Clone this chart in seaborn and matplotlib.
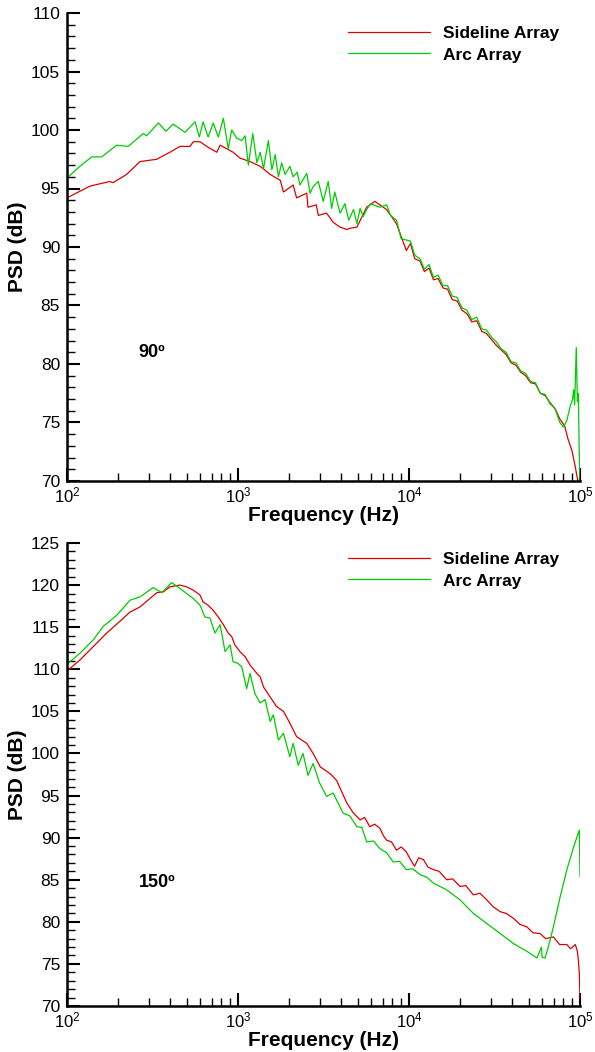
import matplotlib
matplotlib.use("Agg")
import matplotlib.pyplot as plt
from matplotlib.ticker import MultipleLocator, LogLocator, NullFormatter
import seaborn as sns
import pandas as pd

# ---------------- data ----------------
series_names = ["Sideline Array", "Arc Array"]

f_side_90 = [100, 136, 178, 186, 223, 267, 335, 400, 458, 524, 548, 600, 656, 751, 786, 860, 936, 1026, 1176, 1348,
             1543, 1767, 1845, 2102, 2201, 2524, 2566, 2868, 2950, 3295, 3608, 3950, 4335, 4524, 4958, 5656, 6315, 7395, 8447, 9645,
             10200, 10800, 11600, 12300, 13100, 13900, 14800, 15800, 16800, 17900, 19100, 20400, 21800, 23300, 24900, 26600, 28400, 30300, 32400, 34600,
             37000, 39500, 42200, 45000, 48100, 51400, 54900, 58600, 62600, 66800, 71400, 76200, 81400, 85000, 89700, 93900, 96000, 98000]
psd_side_90 = [94.2, 95.2, 95.6, 95.5, 96.2, 97.3, 97.5, 98.1, 98.6, 98.6, 99.0, 99.0, 98.6, 98.1, 98.7, 98.4, 98.1, 97.6, 97.3, 96.9,
               96.2, 95.7, 94.7, 95.3, 94.2, 94.6, 93.4, 93.6, 92.7, 92.9, 92.1, 91.7, 91.5, 91.6, 91.7, 93.4, 93.9, 93.2, 92.0, 89.7,
               90.3, 89.0, 88.8, 87.9, 88.2, 87.2, 87.3, 86.5, 86.4, 85.5, 85.4, 84.6, 84.3, 83.6, 83.7, 82.8, 82.6, 82.1, 81.6, 81.2,
               80.8, 80.1, 79.9, 79.3, 79.0, 78.4, 78.3, 77.5, 77.3, 76.7, 76.2, 75.3, 74.7, 73.6, 72.6, 71.2, 70.4, 69.8]

f_arc_90 = [100, 119, 139.5, 159.6, 195, 228, 279, 292, 342, 379, 418, 490, 561, 594, 625, 669, 716, 767, 821, 877,
            918, 983, 1052, 1100, 1150, 1220, 1290, 1348, 1410, 1506, 1577, 1650, 1724, 1800, 1885, 2010, 2100, 2220, 2300, 2524,
            2640, 2760, 2950, 3150, 3370, 3530, 3680, 3950, 4220, 4440, 4740, 4958, 5180, 5400, 5656, 5950, 6760, 7395, 7800, 8447,
            9000, 9645, 10200, 10800, 11600, 12300, 13100, 13900, 14800, 15800, 16800, 17900, 19100, 20400, 21800, 23300, 24900, 26600, 28400, 30300,
            32400, 34600, 37000, 39500, 42200, 45000, 48100, 51400, 54900, 58600, 62600, 66800, 71400, 76200, 80200, 83800, 87700, 90500, 91800, 93000,
            95100, 96500, 97800, 99000, 100000]
psd_arc_90 = [95.9, 96.9, 97.7, 97.7, 98.7, 98.6, 99.7, 99.5, 100.6, 99.9, 100.5, 99.8, 100.7, 99.4, 100.7, 99.4, 100.6, 99.4, 101.0, 98.4,
              100.0, 99.3, 99.1, 99.5, 97.0, 99.7, 97.2, 98.1, 96.7, 99.1, 96.6, 97.9, 96.0, 97.2, 96.2, 96.9, 96.0, 96.4, 95.3, 96.3,
              94.6, 95.2, 95.6, 93.9, 95.6, 93.3, 94.7, 92.9, 93.7, 92.3, 93.2, 92.0, 93.3, 92.6, 93.2, 93.7, 93.4, 93.6, 92.7, 92.3,
              90.7, 90.6, 90.5, 89.3, 89.0, 88.1, 88.5, 87.4, 87.6, 86.7, 86.7, 85.8, 85.7, 84.8, 84.6, 83.8, 84.0, 83.0, 82.9, 82.3,
              81.9, 81.3, 81.0, 80.2, 80.1, 79.4, 79.2, 78.5, 78.4, 77.5, 77.4, 76.6, 76.2, 75.0, 74.6, 75.2, 76.4, 77.0, 77.8, 76.5,
              81.4, 76.8, 77.5, 72.4, 70.0]

f_side_150 = [100, 119, 142.5, 170.6, 204, 233.5, 267, 305, 335, 366, 400, 458, 500, 548, 600, 625, 669, 716, 767, 821,
              877, 918, 958, 1026, 1100, 1176, 1290, 1348, 1410, 1543, 1676, 1845, 2010, 2201, 2524, 2750, 3030, 3460, 3770, 4335,
              4700, 5180, 5500, 5900, 6300, 6760, 7100, 7395, 7900, 8450, 9000, 9645, 10200, 10770, 11400, 12140, 12900, 13890, 15000, 16600,
              18000, 19900, 21500, 23800, 26000, 28500, 31000, 34200, 37000, 40900, 44500, 48900, 53000, 58500, 63000, 69900, 76000, 83800, 88000, 93900,
              96500, 97800, 99000, 100000]
psd_side_150 = [109.8, 111.1, 112.7, 114.3, 115.7, 116.8, 117.4, 118.4, 119.1, 119.2, 119.8, 120.0, 119.8, 119.4, 118.8, 118.0, 117.6, 117.0, 116.2, 115.3,
                114.3, 113.9, 112.9, 112.1, 111.5, 110.5, 109.5, 109.1, 107.9, 106.7, 105.6, 105.0, 103.6, 102.0, 101.2, 100.0, 98.4, 97.6, 96.8, 94.1,
                93.0, 92.1, 92.4, 91.3, 91.6, 91.1, 90.2, 89.7, 89.5, 88.5, 88.9, 88.3, 87.4, 86.6, 87.6, 87.4, 86.5, 86.2, 86.0, 85.0,
                85.1, 84.2, 84.3, 83.2, 83.4, 82.6, 81.8, 81.2, 81.0, 80.4, 79.7, 79.4, 78.7, 78.6, 78.0, 78.2, 77.3, 77.3, 76.8, 77.3,
                76.5, 75.5, 74.0, 71.0]

f_arc_150 = [100, 119, 142.5, 163, 195, 233.5, 267, 319, 358, 409, 458, 500, 548, 600, 640, 685, 733, 786, 840, 899,
             936, 1000, 1052, 1124, 1176, 1256, 1348, 1440, 1543, 1610, 1724, 1845, 2010, 2100, 2250, 2400, 2566, 2750, 3000, 3295,
             3600, 4120, 4500, 4960, 5300, 5656, 6200, 6760, 7400, 8090, 8800, 9645, 10500, 11620, 12700, 13890, 16600, 19900, 23800, 28500,
             34200, 40900, 48900, 56000, 59500, 60000, 62500, 65400, 69900, 76600, 83800, 91800, 99100, 100000]
psd_arc_150 = [110.6, 111.9, 113.5, 115.1, 116.4, 118.2, 118.6, 119.7, 119.1, 120.3, 119.6, 119.0, 118.4, 117.6, 116.2, 116.1, 114.3, 115.3, 112.1, 112.9,
               110.9, 110.7, 110.3, 107.7, 109.5, 107.1, 106.0, 106.4, 103.8, 104.6, 101.6, 102.4, 99.6, 101.2, 98.6, 100.0, 97.4, 98.8, 96.5, 94.9,
               95.3, 92.9, 92.6, 91.3, 91.2, 89.5, 89.6, 88.7, 88.2, 87.1, 87.2, 86.2, 86.3, 85.6, 85.3, 84.6, 83.8, 82.6, 81.0, 79.8,
               78.6, 77.4, 76.5, 75.7, 77.0, 75.8, 75.7, 77.1, 79.4, 83.0, 86.2, 88.9, 90.9, 85.4]

panel_labels = ["90º", "150º"]
x_ticks = [1e2, 1e3, 1e4, 1e5]
y_lims = [(70, 110), (70, 125)]

# ---------------- style ----------------
sns.set_style("ticks")
plt.rcParams["font.family"] = ["Liberation Sans", "DejaVu Sans"]
plt.rcParams["mathtext.fontset"] = "custom"
plt.rcParams["mathtext.rm"] = "Liberation Sans"
plt.rcParams["mathtext.it"] = "Liberation Sans:italic"
plt.rcParams["mathtext.bf"] = "Liberation Sans:bold"
for k in ["text.color", "axes.labelcolor", "xtick.color", "ytick.color", "axes.edgecolor"]:
    plt.rcParams[k] = "black"

RED = "#dd0000"
GREEN = "#00cc00"

fig = plt.figure(figsize=(5.95, 10.52), dpi=100)
W, H = 595.0, 1052.0
ax1 = fig.add_axes([67 / W, 1 - 481 / H, 513 / W, 468 / H])
ax2 = fig.add_axes([67 / W, 1 - 1006 / H, 513 / W, 463 / H])


def make_df(fs, ps, fa, pa):
    return pd.DataFrame({
        "Frequency": list(fs) + list(fa),
        "PSD": list(ps) + list(pa),
        "series": [series_names[0]] * len(fs) + [series_names[1]] * len(fa),
    })


panels = [
    (ax1, make_df(f_side_90, psd_side_90, f_arc_90, psd_arc_90), y_lims[0], panel_labels[0], 81.0, 1 - 26 / H),
    (ax2, make_df(f_side_150, psd_side_150, f_arc_150, psd_arc_150), y_lims[1], panel_labels[1], 84.7, 1 - 552 / H),
]

for ax, df, ylim, lab, lab_y, leg_y in panels:
    sns.lineplot(data=df, x="Frequency", y="PSD", hue="series", hue_order=series_names,
                 palette=[RED, GREEN], estimator=None, linewidth=0.9, ax=ax)
    ax.set_xscale("log")
    ax.set_xlim(1e2, 1e5)
    ax.set_ylim(*ylim)
    ax.set_xticks(x_ticks)
    ax.xaxis.set_minor_locator(LogLocator(base=10, subs=range(2, 10)))
    ax.xaxis.set_minor_formatter(NullFormatter())
    ax.yaxis.set_major_locator(MultipleLocator(5))
    ax.yaxis.set_minor_locator(MultipleLocator(1))
    for s in ["top", "right"]:
        ax.spines[s].set_visible(False)
    for s in ["left", "bottom"]:
        ax.spines[s].set_linewidth(1.8)
        ax.spines[s].set_color("black")
    ax.tick_params(which="major", direction="in", length=9.4, width=1.5, colors="black")
    ax.tick_params(axis="y", which="major", pad=5, labelsize=12.5)
    ax.tick_params(axis="x", which="major", pad=3.5, labelsize=12)
    ax.tick_params(which="minor", direction="in", length=5.5, width=1.0, colors="black")
    ax.set_xlabel("Frequency (Hz)", fontsize=15, fontweight="bold", labelpad=0)
    ax.set_ylabel("PSD (dB)", fontsize=15, fontweight="bold", labelpad=3)
    ax.text(262, lab_y, lab, fontsize=13, fontweight="bold", va="center", ha="left")
    handles, labels = ax.get_legend_handles_labels()
    ax.legend(handles, labels, frameon=False, loc="upper left",
              bbox_to_anchor=(348 / W, leg_y), bbox_transform=fig.transFigure,
              handlelength=4.7, handletextpad=0.75, labelspacing=0.36, borderpad=0, borderaxespad=0,
              prop={"weight": "bold", "size": 12.5})
    ax.grid(False)

fig.savefig("out.png", dpi=100)
